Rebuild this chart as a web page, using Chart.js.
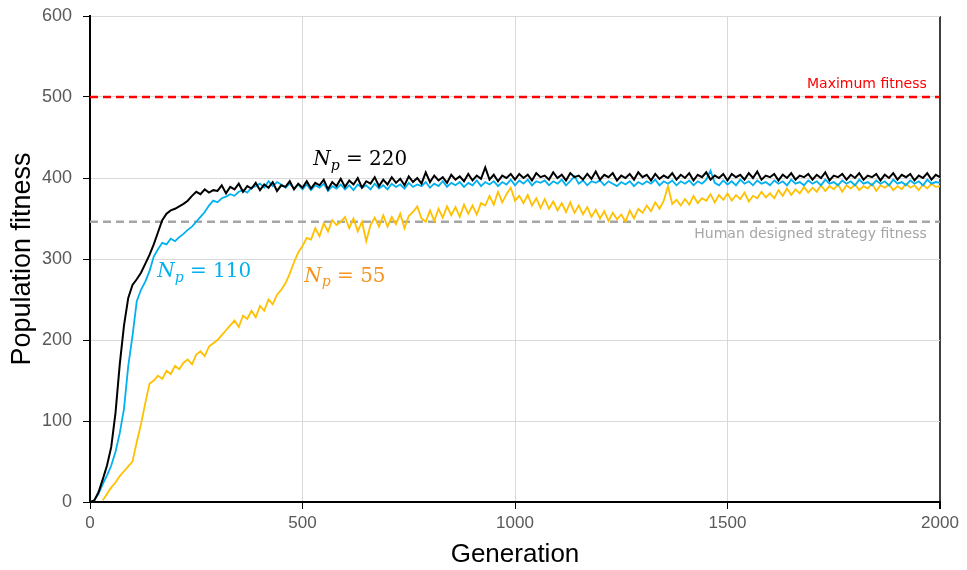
<!DOCTYPE html>
<html>
<head>
<meta charset="utf-8">
<script src="https://cdn.jsdelivr.net/npm/chart.js@4.4.1/dist/chart.umd.min.js"></script>
<style>
  html, body { margin: 0; padding: 0; background: #fff; }
  #wrap { width: 967px; height: 570px; position: relative; }
</style>
</head>
<body>
<div id="wrap"><canvas id="myChart"></canvas></div>
<script>
// sampled every 10 generations
const generations = [];
for (let g = 0; g <= 2000; g += 10) generations.push(g);

// Np = 220 (black)
const fitness220 = [
  0,2,12,28,45,68,110,170,218,252,
  268,275,283,294,305,318,333,348,356,360,
  362,365,368,372,378,383,380,386,382,385,
  384,391,381,389,386,393,383,390,387,394,
  385,392,388,395,384,391,389,396,386,393,
  388,396,387,394,391,398,386,395,390,399,
  389,397,392,400,388,396,393,401,390,398,
  392,401,394,399,391,402,395,400,393,407,
  395,403,397,401,394,404,398,402,396,405,
  397,403,399,413,398,404,396,403,400,405,
  398,405,400,404,397,406,401,403,398,407,
  400,404,397,406,401,403,398,405,399,408,
  398,404,401,406,397,403,400,405,398,407,
  401,404,397,405,399,403,400,406,398,404,
  400,406,397,404,401,407,398,403,400,405,
  397,405,401,404,398,406,400,408,398,403,
  401,405,397,404,400,406,398,403,401,405,
  398,404,400,407,397,403,401,405,398,404,
  400,406,398,403,401,405,397,404,400,406,
  398,404,401,405,397,403,400,406,398,404,
  401
];

// Np = 110 (blue)
const fitness110 = [
  0,2,10,22,33,45,62,85,115,168,
  205,248,262,272,285,303,312,320,318,325,
  322,327,331,336,340,346,352,358,366,372,
  370,375,377,380,378,383,385,382,388,390,
  393,388,396,390,395,392,388,393,387,392,
  386,392,385,391,388,393,384,390,387,392,
  386,391,385,392,388,391,386,393,387,391,
  386,393,389,392,387,394,389,392,390,395,
  388,393,390,396,389,394,391,395,389,394,
  391,397,390,395,392,396,390,395,392,398,
  391,397,393,398,391,396,394,397,391,396,
  393,398,391,396,402,393,397,391,396,394,
  397,391,396,393,390,395,392,396,390,395,
  392,396,393,398,391,396,393,397,391,396,
  393,397,391,396,393,398,409,394,391,397,
  392,396,391,398,393,396,391,397,393,395,
  391,397,393,396,391,398,393,395,391,397,
  393,396,391,398,393,395,391,397,393,396,
  391,398,393,395,391,397,393,396,391,398,
  393,395,391,397,393,396,391,398,393,395,
  394
];

// Np = 55 (yellow)
const fitness55 = [
  null,null,null,2,10,18,24,32,38,44,
  50,74,96,122,146,150,156,152,162,158,
  168,164,172,176,170,182,186,180,192,196,
  200,206,212,218,224,216,230,226,236,228,
  242,236,250,244,256,262,270,282,296,308,
  316,326,324,338,328,344,334,348,342,346,
  352,338,350,334,346,322,342,351,340,354,
  340,352,343,356,338,353,358,365,350,346,
  360,347,362,351,365,354,364,352,367,356,
  366,355,369,366,378,367,383,370,380,388,
  372,378,369,379,366,375,363,374,362,371,
  360,369,358,370,357,366,355,364,352,361,
  350,359,347,357,349,355,346,360,350,362,
  357,366,359,370,362,372,390,368,373,366,
  374,367,378,369,375,372,380,370,379,373,
  381,372,379,374,382,371,378,375,383,376,
  381,375,385,378,387,379,386,381,389,382,
  388,383,391,384,390,386,392,383,391,387,
  392,385,390,387,393,384,391,388,392,385,
  390,386,393,388,391,385,392,387,393,389,
  390
];

const maxFitness = 500;
const humanFitness = 346;
const xRange = [0, 2000];

function toPoints(values) {
  return generations.map((g, i) => ({ x: g, y: values[i] }));
}

// text labels drawn at data positions
const labelPlugin = {
  id: 'labels',
  afterDatasetsDraw(chart) {
    const ctx = chart.ctx;
    const xs = chart.scales.x, ys = chart.scales.y;
    ctx.save();
    ctx.textBaseline = 'middle';

    ctx.font = '14px "DejaVu Sans"';
    ctx.textAlign = 'right';
    ctx.fillStyle = '#ff0000';
    ctx.fillText('Maximum fitness', xs.getPixelForValue(1969), ys.getPixelForValue(515));
    ctx.fillStyle = '#a6a6a6';
    ctx.fillText('Human designed strategy fitness', xs.getPixelForValue(1969), ys.getPixelForValue(331));

    function npLabel(gen, val, num, color) {
      let px = xs.getPixelForValue(gen);
      const py = ys.getPixelForValue(val);
      ctx.fillStyle = color;
      ctx.textAlign = 'left';
      ctx.font = 'italic 20px "DejaVu Serif"';
      ctx.fillText('N', px, py);
      px += ctx.measureText('N').width;
      ctx.font = 'italic 14px "DejaVu Serif"';
      ctx.fillText('p', px, py + 6);
      px += ctx.measureText('p').width;
      ctx.font = '20px "DejaVu Serif"';
      ctx.fillText(' = ' + num, px, py);
    }
    npLabel(525, 422, '220', '#000000');
    npLabel(158, 284, '110', '#00b0f0');
    npLabel(504, 278, '55', '#f7941d');
    ctx.restore();
  }
};

const ctx = document.getElementById('myChart').getContext('2d');

let myChart = new Chart(ctx, {
  type: 'line',
  data: {
    datasets: [
      {
        label: 'Np = 220',
        data: toPoints(fitness220),
        borderColor: '#000000',
        borderWidth: 2,
        pointRadius: 0
      },
      {
        label: 'Np = 110',
        data: toPoints(fitness110),
        borderColor: '#00b0f0',
        borderWidth: 1.8,
        pointRadius: 0
      },
      {
        label: 'Np = 55',
        data: toPoints(fitness55),
        borderColor: '#ffc000',
        borderWidth: 1.8,
        pointRadius: 0
      },
      {
        label: 'Maximum fitness',
        data: xRange.map(g => ({ x: g, y: maxFitness })),
        borderColor: '#ff0000',
        borderWidth: 2.5,
        borderDash: [8, 5],
        pointRadius: 0
      },
      {
        label: 'Human designed strategy fitness',
        data: xRange.map(g => ({ x: g, y: humanFitness })),
        borderColor: '#a6a6a6',
        borderWidth: 2.5,
        borderDash: [8, 5],
        pointRadius: 0
      }
    ]
  },
  options: {
    responsive: true,
    maintainAspectRatio: false,
    animation: false,
    layout: { padding: { top: 16, right: 27, left: 6, bottom: 0 } },
    plugins: {
      legend: { display: false },
      tooltip: { enabled: false }
    },
    scales: {
      x: {
        type: 'linear',
        min: 0,
        max: 2000,
        ticks: {
          stepSize: 500,
          color: '#595959',
          padding: 4,
          maxRotation: 0,
          callback: v => String(v),
          font: { family: '"Liberation Sans"', size: 17 }
        },
        grid: {
          color: ctx => ctx.tick && ctx.tick.value === 2000 ? '#404040' : '#d9d9d9',
          lineWidth: ctx => ctx.tick && ctx.tick.value === 2000 ? 2 : 1,
          tickColor: '#000',
          tickLength: 7
        },
        border: { color: '#000', width: 2 },
        title: {
          display: true,
          text: 'Generation',
          color: '#000',
          padding: { top: 0, bottom: 0 },
          font: { family: '"Liberation Sans"', size: 26 }
        },
        afterFit: scale => {
          scale.height = 68;
          scale.paddingLeft = 0;
          scale.paddingRight = 0;
        }
      },
      y: {
        min: 0,
        max: 600,
        ticks: {
          stepSize: 100,
          color: '#595959',
          padding: 11,
          font: { family: '"Liberation Sans"', size: 18 }
        },
        grid: {
          color: '#d9d9d9',
          tickColor: '#000',
          tickLength: 7
        },
        border: { color: '#000', width: 2 },
        title: {
          display: true,
          text: 'Population fitness',
          color: '#000',
          padding: { top: 0, bottom: 0 },
          font: { family: '"Liberation Sans"', size: 27 }
        },
        afterFit: scale => {
          scale.width = 84;
          scale.paddingTop = 0;
          scale.paddingBottom = 0;
        }
      }
    }
  },
  plugins: [labelPlugin]
});
</script>
</body>
</html>
